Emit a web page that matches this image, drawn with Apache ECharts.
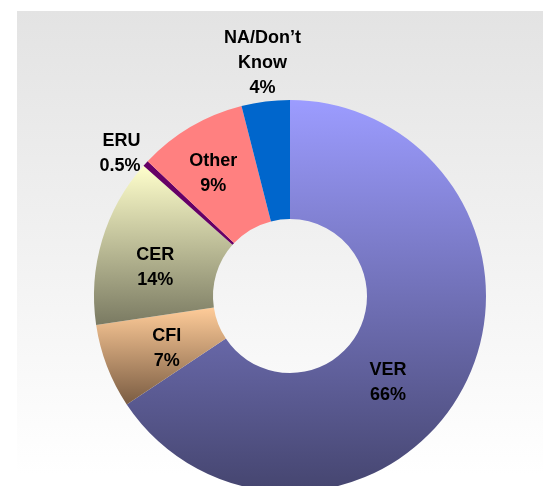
<!DOCTYPE html>
<html>
<head>
<meta charset="utf-8">
<script src="https://cdn.jsdelivr.net/npm/echarts@6/dist/echarts.min.js"></script>
<style>
  html, body { margin: 0; padding: 0; background: #fff; }
  #main { width: 547px; height: 486px; }
</style>
</head>
<body>
<div id="main"></div>
<script>
const chart = echarts.init(document.getElementById('main'));

// slices, clockwise from 12 o'clock
const categories = ['VER', 'CFI', 'CER', 'ERU', 'Other', 'NA/Don\u2019t\nKnow'];
const shares = [66, 7, 14, 0.5, 9, 4];

// top / bottom colours of each slice's vertical gradient
const topColors = ['#9c9cff', '#ffcc99', '#ffffcc', '#660066', '#ff8080', '#0066cc'];
const bottomColors = ['#45456f', '#7a5c42', '#7a7a62', '#660066', '#ff8080', '#0066cc'];

// nudges for the labels (px)
const labelShift = [[-25, 21], [7, 2], [-1, 11], [0, -10], [-6, -2], [2, -38]];

const pieData = categories.map((name, i) => ({
  name: name,
  value: shares[i],
  itemStyle: {
    color: new echarts.graphic.LinearGradient(0, 0, 0, 1, [
      { offset: 0, color: topColors[i] },
      { offset: 1, color: bottomColors[i] }
    ])
  },
  label: {
    position: (i === 3 || i === 5) ? 'outside' : 'inside'
  }
}));

const options = {
  animation: false,
  graphic: [{
    type: 'rect',
    silent: true,
    z: -10,
    shape: { x: 17, y: 11, width: 526, height: 463 },
    style: {
      fill: new echarts.graphic.LinearGradient(0, 0, 0, 1, [
        { offset: 0, color: '#e3e3e3' },
        { offset: 1, color: '#ffffff' }
      ])
    }
  }],
  series: [{
    type: 'pie',
    center: [290, 296],
    radius: [77, 196],
    startAngle: 90,
    clockwise: true,
    avoidLabelOverlap: false,
    label: {
      show: true,
      formatter: p => p.name + '\n' + p.value + '%',
      fontFamily: 'Liberation Sans, Arial, sans-serif',
      fontWeight: 'bold',
      fontSize: 18,
      lineHeight: 25,
      color: '#000'
    },
    labelLine: { show: false, length: 0, length2: 0 },
    labelLayout: p => {
      const i = p.dataIndex;
      const out = { dx: labelShift[i][0], dy: labelShift[i][1] };
      if (i === 5) out.align = 'center';
      return out;
    },
    data: pieData
  }]
};

chart.setOption(options);
</script>
</body>
</html>
